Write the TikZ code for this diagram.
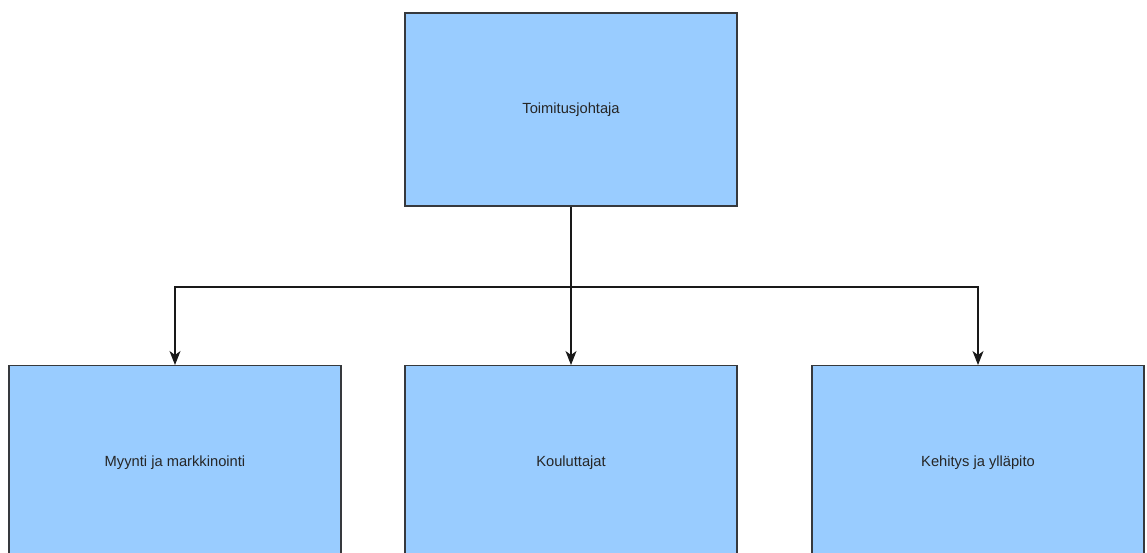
\documentclass[tikz,border=0pt]{standalone}
\usepackage{fontspec}
\setmainfont{Liberation Sans}
\usetikzlibrary{arrows.meta}
\definecolor{boxblue}{HTML}{99CCFF}
\definecolor{boxline}{HTML}{36393D}
\tikzset{
  orgbox/.style={draw=boxline, fill=boxblue, line width=1.2pt, minimum width=332pt,
    minimum height=194pt, inner sep=0pt, text=black!85, font=\fontsize{14.7}{17}\selectfont},
  orgline/.style={line width=1.1pt, draw=black!90},
  orgarrow/.style={orgline, -{Stealth[length=14pt, width=11pt, inset=4pt]}}
}
\begin{document}
\begin{tikzpicture}[x=1pt, y=-1pt]
		\useasboundingbox (0,0) rectangle (1147,553);
		\clip (0,0) rectangle (1147,553);
		
		% Top box
		\node[orgbox, minimum height=193pt] (ceo) at (571,109.5) {Toimitusjohtaja};
		
		% Bottom row
		\node[orgbox, anchor=north] (sales) at (175,365) {Myynti ja markkinointi};
		\node[orgbox, anchor=north] (trainers) at (571,365) {Kouluttajat};
		\node[orgbox, anchor=north] (devel) at (978,365) {Kehitys ja ylläpito};
		
		% Connectors
		\coordinate (split) at (571,287);
		\draw[orgline] (ceo.south) -- (split);
		\draw[orgarrow] (split) -| (sales.north);
		\draw[orgarrow] (split) -- (trainers.north);
		\draw[orgarrow] (split) -| (devel.north);
	\end{tikzpicture}
\end{document}
